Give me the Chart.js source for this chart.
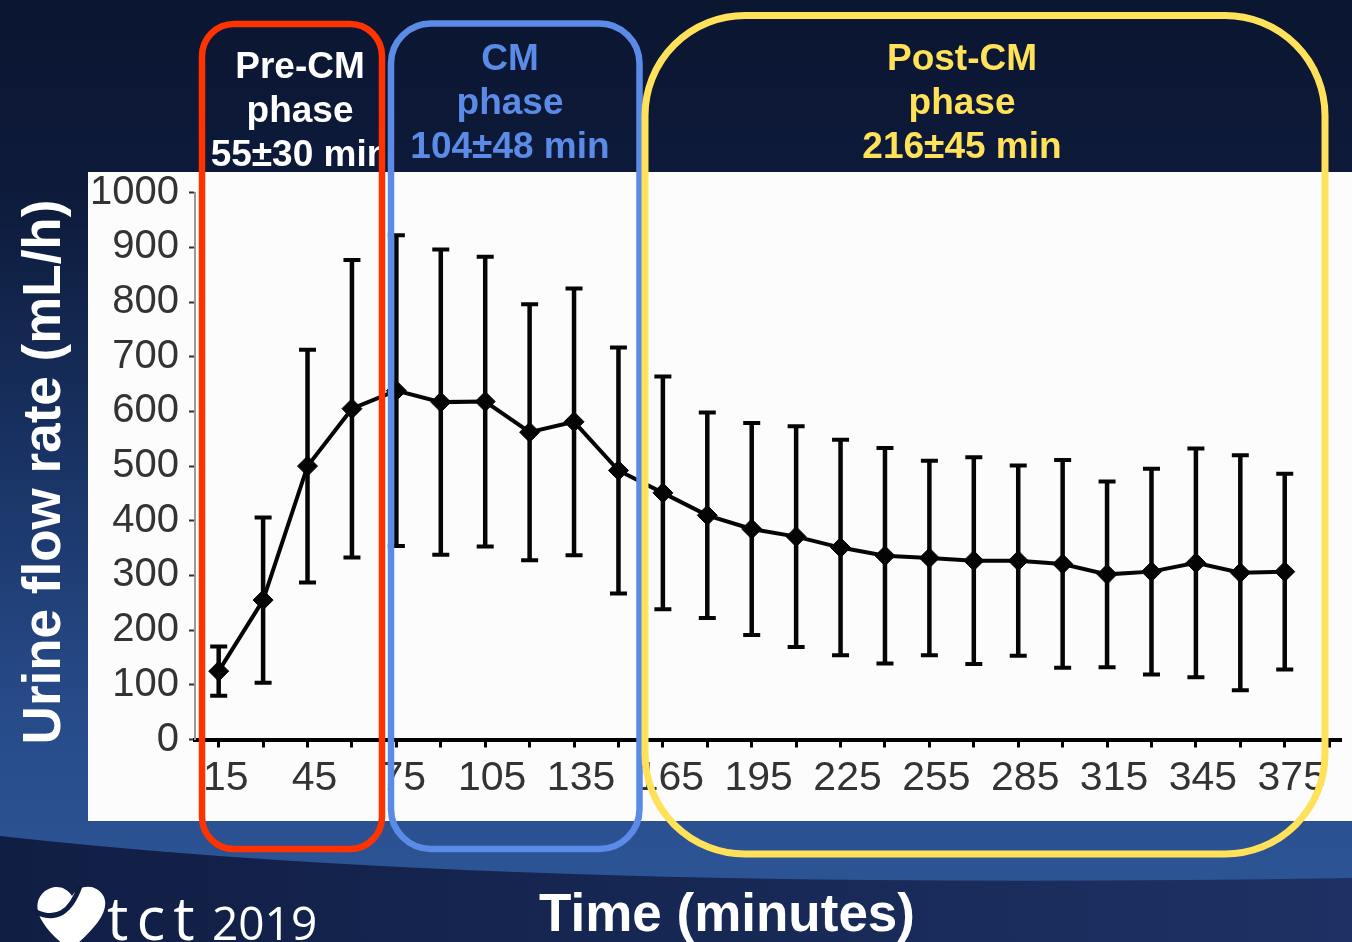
<!DOCTYPE html>
<html>
<head>
<meta charset="utf-8">
<title>Urine flow rate over time</title>
<script src="https://cdn.jsdelivr.net/npm/chart.js@4.4.1/dist/chart.umd.min.js"></script>
<style>
  html, body { margin: 0; padding: 0; background: #0b1631; overflow: hidden; }
  #wrap { position: relative; width: 1352px; height: 942px; }
  canvas { display: block; }
</style>
</head>
<body>
<div id="wrap"><canvas id="flowChart" width="1352" height="942"></canvas></div>
<script>
// Sampling times (minutes) and urine flow rate, mean and SD (mL/h)
const timeMin = [15, 30, 45, 60, 75, 90, 105, 120, 135, 150, 165, 180, 195,
                 210, 225, 240, 255, 270, 285, 300, 315, 330, 345, 360, 375];
const meanFlow = [125, 255, 500, 605, 638, 617, 618, 562, 581, 492, 451, 410, 385,
                  371, 351, 336, 332, 327, 327, 321, 302, 307, 323, 305, 307];
const sdFlow = [45, 151, 213, 272, 284, 279, 265, 234, 244, 225, 213, 188, 194,
                202, 197, 197, 178, 189, 174, 190, 170, 188, 209, 215, 179];

// Axis ticks
const yTicks = [0, 100, 200, 300, 400, 500, 600, 700, 800, 900, 1000];
const xTicks = [15, 30, 45, 60, 75, 90, 105, 120, 135, 150, 165, 180, 195, 210,
                225, 240, 255, 270, 285, 300, 315, 330, 345, 360, 375, 390];
const xLabelled = [15, 45, 75, 105, 135, 165, 195, 225, 255, 285, 315, 345, 375];

// Study phases
const phaseNames = ['Pre-CM', 'CM', 'Post-CM'];
const phaseDurations = ['55±30 min', '104±48 min', '216±45 min'];

const axisTitleY = 'Urine flow rate (mL/h)';
const axisTitleX = 'Time (minutes)';
const brandText = ['tct', '2019'];

const SANS = '"Liberation Sans", Arial, Helvetica, sans-serif';
const BRAND = '"Open Sans", "DejaVu Sans", sans-serif';

function roundRectPath(ctx, x, y, w, h, r) {
  ctx.beginPath();
  ctx.moveTo(x + r, y);
  ctx.lineTo(x + w - r, y);
  ctx.arcTo(x + w, y, x + w, y + r, r);
  ctx.lineTo(x + w, y + h - r);
  ctx.arcTo(x + w, y + h, x + w - r, y + h, r);
  ctx.lineTo(x + r, y + h);
  ctx.arcTo(x, y + h, x, y + h - r, r);
  ctx.lineTo(x, y + r);
  ctx.arcTo(x, y, x + r, y, r);
  ctx.closePath();
}

// draws a word glyph by glyph with extra tracking
function spacedText(ctx, text, x, y, spacing) {
  let cx = x;
  for (const ch of text) {
    ctx.fillText(ch, cx, y);
    cx += ctx.measureText(ch).width + spacing;
  }
}

// Slide background: navy gradient, lower swoosh and white plot panel
const slideBackground = {
  id: 'slideBackground',
  beforeDraw(chart) {
    const { ctx, width, height } = chart;
    ctx.save();
    const g = ctx.createLinearGradient(0, 0, 0, height);
    g.addColorStop(0, '#0b1631');
    g.addColorStop(0.2, '#0d1a3a');
    g.addColorStop(0.5, '#1a3466');
    g.addColorStop(0.75, '#274b89');
    g.addColorStop(0.92, '#2c5394');
    ctx.fillStyle = g;
    ctx.fillRect(0, 0, width, height);

    // darker band under the curved swoosh
    const g2 = ctx.createLinearGradient(0, 0, width, 0);
    g2.addColorStop(0, '#111e44');
    g2.addColorStop(1, '#1d3164');
    ctx.fillStyle = g2;
    ctx.beginPath();
    ctx.moveTo(0, 836);
    ctx.quadraticCurveTo(500, 892, width, 878);
    ctx.lineTo(width, height);
    ctx.lineTo(0, height);
    ctx.closePath();
    ctx.fill();

    // white panel behind the plot
    ctx.fillStyle = '#fcfcfc';
    ctx.fillRect(88, 172, width - 88, 649);
    ctx.restore();
  }
};

// Mean ± SD error bars
const errorBars = {
  id: 'errorBars',
  afterDatasetsDraw(chart) {
    const { ctx } = chart;
    const xs = chart.scales.x, ys = chart.scales.y;
    ctx.save();
    ctx.strokeStyle = '#050505';
    ctx.lineCap = 'butt';
    for (let i = 0; i < timeMin.length; i++) {
      const px = xs.getPixelForValue(timeMin[i]);
      const top = ys.getPixelForValue(meanFlow[i] + sdFlow[i]);
      const bot = ys.getPixelForValue(meanFlow[i] - sdFlow[i]);
      ctx.lineWidth = 4.5;
      ctx.beginPath();
      ctx.moveTo(px, top);
      ctx.lineTo(px, bot);
      ctx.stroke();
      ctx.lineWidth = 4;
      ctx.beginPath();
      ctx.moveTo(px - 8.5, top);
      ctx.lineTo(px + 8.5, top);
      ctx.moveTo(px - 8.5, bot);
      ctx.lineTo(px + 8.5, bot);
      ctx.stroke();
    }
    ctx.restore();
  }
};

// Phase frames, phase captions, axis titles and congress logo
const slideOverlay = {
  id: 'slideOverlay',
  afterDraw(chart) {
    const { ctx } = chart;
    ctx.save();

    // phase frames
    const frames = [
      { x: 202, y: 24, w: 180, h: 825, r: 32, color: '#ff3300', lw: 6.5 },
      { x: 391, y: 23.5, w: 248.5, h: 825.5, r: 40, color: '#5b8be6', lw: 6.5 },
      { x: 645, y: 15.5, w: 680, h: 838.5, r: 100, color: '#ffe15a', lw: 7 }
    ];
    frames.forEach(f => {
      roundRectPath(ctx, f.x, f.y, f.w, f.h, f.r);
      ctx.strokeStyle = f.color;
      ctx.lineWidth = f.lw;
      ctx.stroke();
    });

    // phase captions
    const captions = [
      { cx: 300, base: [78, 122, 166], color: '#ffffff', clip: [205, 0, 174, 172] },
      { cx: 510, base: [70, 114, 158], color: '#5b8be6', clip: null },
      { cx: 962, base: [70, 114, 158], color: '#ffe15a', clip: null }
    ];
    ctx.font = 'bold 37px ' + SANS;
    ctx.textAlign = 'center';
    ctx.textBaseline = 'alphabetic';
    captions.forEach((c, i) => {
      ctx.save();
      if (c.clip) {
        ctx.beginPath();
        ctx.rect(c.clip[0], c.clip[1], c.clip[2], c.clip[3]);
        ctx.clip();
      }
      ctx.fillStyle = c.color;
      const lines = [phaseNames[i], 'phase', phaseDurations[i]];
      lines.forEach((t, k) => ctx.fillText(t, c.cx, c.base[k]));
      ctx.restore();
    });

    // y-axis title
    ctx.save();
    ctx.translate(60, 472);
    ctx.rotate(-Math.PI / 2);
    ctx.fillStyle = '#ffffff';
    ctx.font = 'bold 53px ' + SANS;
    ctx.textAlign = 'center';
    ctx.textBaseline = 'alphabetic';
    ctx.fillText(axisTitleY, 0, 0);
    ctx.restore();

    // x-axis title
    ctx.fillStyle = '#ffffff';
    ctx.font = 'bold 53px ' + SANS;
    ctx.textAlign = 'center';
    ctx.textBaseline = 'alphabetic';
    ctx.fillText(axisTitleX, 727, 931);

    // logo mark
    ctx.fillStyle = '#ffffff';
    ctx.beginPath();
    ctx.moveTo(70, 950);
    ctx.bezierCurveTo(42, 928, 30, 908, 42, 894);
    ctx.bezierCurveTo(52, 883, 66, 886, 72, 896);
    ctx.bezierCurveTo(79, 884, 97, 883, 104, 897);
    ctx.bezierCurveTo(110, 912, 94, 930, 70, 950);
    ctx.closePath();
    ctx.fill();
    ctx.strokeStyle = '#101d42';
    ctx.lineWidth = 5;
    ctx.beginPath();
    ctx.moveTo(36, 912);
    ctx.quadraticCurveTo(66, 926, 80, 886);
    ctx.stroke();

    // logo text
    ctx.fillStyle = '#ffffff';
    ctx.textAlign = 'left';
    ctx.font = '60px ' + BRAND;
    spacedText(ctx, brandText[0], 107, 940, 8);
    ctx.font = '46px ' + BRAND;
    ctx.fillText(brandText[1], 212, 940);

    ctx.restore();
  }
};

const ctx = document.getElementById('flowChart').getContext('2d');
new Chart(ctx, {
  type: 'line',
  data: {
    datasets: [{
      data: timeMin.map((t, i) => ({ x: t, y: meanFlow[i] })),
      borderColor: '#050505',
      borderWidth: 4,
      tension: 0,
      pointStyle: 'rectRot',
      pointRadius: 10,
      pointBackgroundColor: '#050505',
      pointBorderColor: '#050505',
      pointBorderWidth: 1,
      clip: false
    }]
  },
  options: {
    responsive: false,
    animation: false,
    devicePixelRatio: 1,
    layout: { padding: { left: 0, right: 0, top: 192.7, bottom: 132.5 } },
    plugins: { legend: { display: false }, tooltip: { enabled: false } },
    scales: {
      x: {
        type: 'linear',
        min: 7,
        max: 394,
        afterBuildTicks: s => { s.ticks = xTicks.map(v => ({ value: v })); },
        afterFit: s => { s.height = 70; },
        ticks: {
          autoSkip: false,
          maxRotation: 0,
          minRotation: 0,
          padding: 7,
          labelOffset: 7,
          color: '#333333',
          font: { family: SANS, size: 41 },
          callback: v => xLabelled.includes(v) ? String(v) : ''
        },
        grid: { drawOnChartArea: false, drawTicks: true, tickLength: 8, tickWidth: 3, tickColor: '#000000' },
        border: { display: true, color: '#000000', width: 4 }
      },
      y: {
        min: 0,
        max: 1000,
        afterBuildTicks: s => { s.ticks = yTicks.map(v => ({ value: v })); },
        afterFit: s => { s.width = 195; },
        ticks: {
          padding: 10,
          color: '#333333',
          font: { family: SANS, size: 40 },
          callback: v => String(v)
        },
        grid: { drawOnChartArea: false, drawTicks: true, tickLength: 6, tickWidth: 2, tickColor: '#333333' },
        border: { display: true, color: '#999999', width: 2 }
      }
    }
  },
  plugins: [slideBackground, errorBars, slideOverlay]
});
</script>
</body>
</html>
